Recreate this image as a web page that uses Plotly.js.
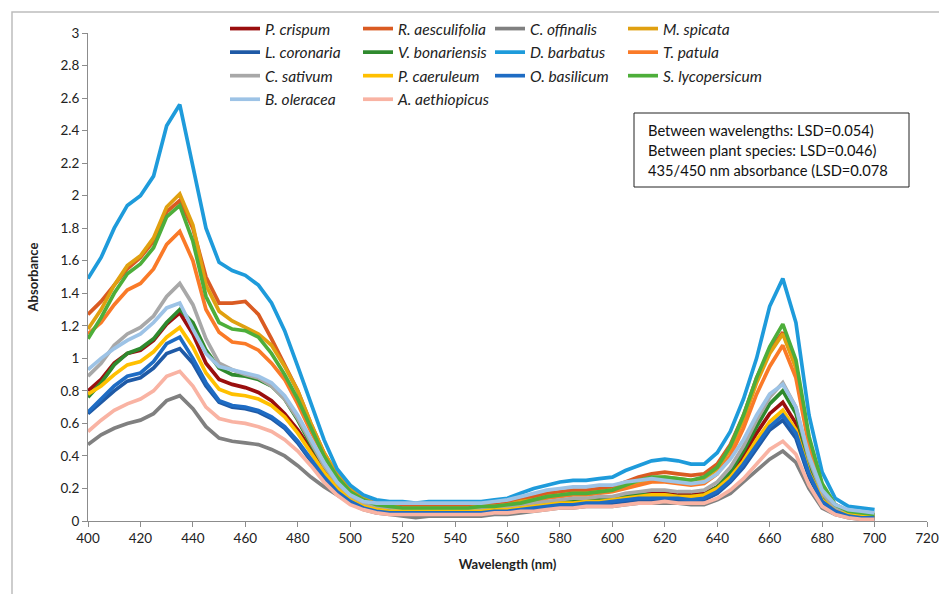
<!DOCTYPE html>
<html>
<head>
<meta charset="utf-8">
<script src="https://cdn.plot.ly/plotly-3.0.1.min.js"></script>
<style>html,body{margin:0;padding:0;background:#fff;}#chart{width:939px;height:594px;}</style>
</head>
<body>
<div id="chart"></div>
<script>
// Wavelengths 400..700 nm, 5 nm steps
const wavelengths = [400,405,410,415,420,425,430,435,440,445,450,455,460,465,470,475,480,485,490,495,500,
  505,510,515,520,525,530,535,540,545,550,555,560,565,570,575,580,585,590,595,600,
  605,610,615,620,625,630,635,640,645,650,655,660,665,670,675,680,685,690,695,700];

const speciesNames = ["P. crispum","R. aesculifolia","C. offinalis","M. spicata",
  "L. coronaria","V. bonariensis","D. barbatus","T. patula",
  "C. sativum","P. caeruleum","O. basilicum","S. lycopersicum",
  "B. oleracea","A. aethiopicus"];

const pCrispum = [0.80,0.87,0.97,1.03,1.05,1.11,1.21,1.28,1.15,0.97,0.87,0.84,0.82,0.79,0.74,0.66,0.56,0.44,0.32,0.22,0.14,
  0.10,0.08,0.07,0.06,0.06,0.06,0.06,0.06,0.06,0.07,0.07,0.08,0.09,0.10,0.11,0.12,0.12,0.13,0.13,0.14,
  0.15,0.16,0.17,0.17,0.16,0.16,0.17,0.21,0.29,0.40,0.54,0.66,0.73,0.60,0.32,0.14,0.07,0.04,0.03,0.02];
const rAesculifolia = [1.27,1.35,1.45,1.55,1.62,1.72,1.90,1.97,1.80,1.50,1.34,1.34,1.35,1.27,1.12,0.96,0.80,0.60,0.42,0.28,0.19,
  0.14,0.11,0.10,0.09,0.09,0.09,0.09,0.09,0.09,0.10,0.10,0.11,0.13,0.15,0.17,0.18,0.19,0.19,0.20,0.21,
  0.24,0.27,0.29,0.30,0.29,0.28,0.29,0.35,0.47,0.65,0.88,1.05,1.16,0.95,0.50,0.22,0.10,0.06,0.05,0.04];
const cOffinalis = [0.47,0.53,0.57,0.60,0.62,0.66,0.74,0.77,0.69,0.58,0.51,0.49,0.48,0.47,0.44,0.40,0.34,0.27,0.21,0.16,0.11,
  0.07,0.05,0.04,0.03,0.02,0.03,0.03,0.03,0.03,0.03,0.04,0.04,0.05,0.06,0.07,0.08,0.08,0.09,0.09,0.09,
  0.10,0.11,0.11,0.11,0.11,0.10,0.10,0.13,0.17,0.24,0.31,0.38,0.43,0.36,0.20,0.08,0.04,0.02,0.01,0.01];
const mSpicata = [1.18,1.30,1.45,1.57,1.63,1.74,1.93,2.01,1.82,1.45,1.29,1.23,1.19,1.15,1.08,0.95,0.80,0.60,0.42,0.29,0.20,
  0.14,0.10,0.09,0.08,0.08,0.08,0.08,0.08,0.08,0.09,0.09,0.10,0.12,0.13,0.15,0.16,0.17,0.17,0.18,0.19,
  0.22,0.24,0.26,0.27,0.26,0.25,0.26,0.32,0.44,0.62,0.85,1.03,1.15,0.94,0.49,0.21,0.09,0.05,0.04,0.03];
const lCoronaria = [0.66,0.73,0.80,0.86,0.88,0.94,1.03,1.06,0.97,0.83,0.73,0.70,0.69,0.67,0.63,0.57,0.48,0.37,0.26,0.17,0.11,
  0.08,0.06,0.05,0.05,0.05,0.05,0.05,0.05,0.05,0.05,0.05,0.06,0.07,0.07,0.08,0.09,0.09,0.10,0.10,0.11,
  0.12,0.13,0.13,0.13,0.13,0.12,0.13,0.17,0.24,0.33,0.45,0.56,0.62,0.51,0.27,0.12,0.05,0.03,0.02,0.01];
const vBonariensis = [0.76,0.85,0.96,1.03,1.06,1.12,1.22,1.30,1.22,1.05,0.94,0.90,0.89,0.87,0.83,0.75,0.62,0.47,0.34,0.23,0.15,
  0.10,0.08,0.07,0.07,0.07,0.07,0.07,0.07,0.07,0.07,0.08,0.08,0.09,0.10,0.11,0.12,0.13,0.13,0.14,0.14,
  0.15,0.16,0.16,0.16,0.15,0.15,0.16,0.21,0.30,0.43,0.58,0.72,0.80,0.66,0.36,0.16,0.07,0.04,0.03,0.02];
const dBarbatus = [1.49,1.62,1.80,1.94,2.00,2.12,2.43,2.56,2.18,1.80,1.59,1.54,1.51,1.45,1.34,1.17,0.95,0.72,0.50,0.32,0.22,
  0.16,0.13,0.12,0.12,0.11,0.12,0.12,0.12,0.12,0.12,0.13,0.14,0.17,0.20,0.22,0.24,0.25,0.25,0.26,0.27,
  0.31,0.34,0.37,0.38,0.37,0.35,0.35,0.42,0.55,0.75,1.00,1.32,1.49,1.22,0.65,0.30,0.14,0.09,0.08,0.07];
const tPatula = [1.15,1.22,1.33,1.42,1.46,1.55,1.70,1.78,1.60,1.30,1.16,1.10,1.09,1.05,0.97,0.87,0.72,0.55,0.40,0.27,0.18,
  0.13,0.10,0.09,0.08,0.08,0.08,0.08,0.08,0.08,0.09,0.09,0.10,0.11,0.12,0.14,0.15,0.16,0.16,0.17,0.18,
  0.20,0.22,0.24,0.24,0.23,0.22,0.23,0.29,0.40,0.57,0.78,0.95,1.08,0.88,0.46,0.20,0.09,0.05,0.04,0.03];
const cSativum = [0.89,0.97,1.08,1.15,1.19,1.26,1.38,1.46,1.33,1.12,0.97,0.93,0.90,0.88,0.83,0.75,0.63,0.48,0.34,0.23,0.15,
  0.11,0.09,0.08,0.07,0.07,0.07,0.07,0.07,0.07,0.07,0.08,0.09,0.10,0.11,0.12,0.13,0.14,0.14,0.15,0.15,
  0.17,0.18,0.19,0.19,0.18,0.18,0.19,0.24,0.33,0.46,0.62,0.76,0.85,0.70,0.38,0.17,0.08,0.05,0.04,0.03];
const pCaeruleum = [0.78,0.83,0.90,0.96,0.98,1.04,1.13,1.19,1.07,0.91,0.81,0.78,0.77,0.75,0.71,0.64,0.54,0.42,0.30,0.20,0.13,
  0.09,0.07,0.06,0.06,0.06,0.06,0.06,0.06,0.06,0.06,0.07,0.07,0.08,0.09,0.10,0.11,0.11,0.12,0.12,0.13,
  0.14,0.15,0.16,0.16,0.15,0.15,0.16,0.20,0.27,0.37,0.50,0.61,0.68,0.56,0.30,0.13,0.06,0.04,0.03,0.02];
const oBasilicum = [0.67,0.75,0.83,0.89,0.91,0.98,1.09,1.13,1.00,0.85,0.74,0.71,0.70,0.68,0.64,0.58,0.49,0.38,0.27,0.18,0.12,
  0.08,0.06,0.05,0.05,0.05,0.05,0.05,0.05,0.05,0.05,0.06,0.06,0.07,0.08,0.09,0.10,0.10,0.11,0.11,0.12,
  0.13,0.14,0.14,0.14,0.14,0.13,0.14,0.18,0.25,0.35,0.47,0.58,0.65,0.54,0.29,0.12,0.06,0.03,0.02,0.02];
const sLycopersicum = [1.12,1.25,1.40,1.52,1.58,1.68,1.87,1.94,1.72,1.38,1.22,1.18,1.17,1.13,1.03,0.90,0.75,0.57,0.40,0.27,0.18,
  0.13,0.10,0.09,0.08,0.08,0.08,0.08,0.08,0.08,0.09,0.09,0.10,0.11,0.13,0.15,0.16,0.17,0.17,0.18,0.19,
  0.22,0.25,0.27,0.27,0.26,0.25,0.27,0.33,0.46,0.65,0.88,1.07,1.21,0.99,0.52,0.23,0.10,0.06,0.05,0.04];
const bOleracea = [0.93,1.00,1.06,1.11,1.15,1.22,1.31,1.34,1.18,1.03,0.95,0.93,0.91,0.89,0.85,0.77,0.65,0.50,0.36,0.24,0.16,
  0.12,0.11,0.11,0.11,0.11,0.11,0.11,0.11,0.11,0.11,0.12,0.13,0.15,0.17,0.19,0.20,0.21,0.21,0.22,0.22,
  0.24,0.25,0.26,0.25,0.24,0.23,0.24,0.29,0.38,0.50,0.65,0.78,0.84,0.70,0.40,0.19,0.10,0.07,0.06,0.05];
const aAethiopicus = [0.55,0.62,0.68,0.72,0.75,0.80,0.89,0.92,0.83,0.70,0.63,0.61,0.60,0.58,0.55,0.50,0.43,0.34,0.24,0.16,0.10,
  0.07,0.05,0.04,0.04,0.04,0.04,0.04,0.04,0.04,0.04,0.05,0.05,0.06,0.06,0.07,0.08,0.08,0.09,0.09,0.09,
  0.10,0.11,0.11,0.12,0.11,0.11,0.11,0.14,0.19,0.26,0.35,0.44,0.49,0.41,0.22,0.09,0.04,0.02,0.01,0.01];

const seriesValues = [pCrispum,rAesculifolia,cOffinalis,mSpicata,lCoronaria,vBonariensis,dBarbatus,tPatula,
  cSativum,pCaeruleum,oBasilicum,sLycopersicum,bOleracea,aAethiopicus];

const seriesColors = ["#9A0E0E","#DA5B22","#808080","#E0A010",
  "#1F5AA6","#2F8A2E","#1E9BDB","#FA7A28",
  "#A8A8A8","#FFC000","#1E6CC4","#4DAE3A",
  "#9DC3E6","#F9B3A3"];

const xTickVals = [400,420,440,460,480,500,520,540,560,580,600,620,640,660,680,700,720];
const annotationLines = ["Between wavelengths: LSD=0.054)","Between plant species: LSD=0.046)","435/450 nm absorbance (LSD=0.078"];

const legendIds = ["legend","legend2","legend3","legend4"];
const traces = speciesNames.map((name,i) => ({
  type: "scatter", mode: "lines", name: name, x: wavelengths, y: seriesValues[i],
  line: {color: seriesColors[i], width: 3.7},
  legend: legendIds[i % 4], legendgroup: "g" + i, hoverinfo: "x+y+name"
}));

const fontFam = "Lato, 'Open Sans', sans-serif";
const plotL = 88, plotR = 927, plotT = 33, plotB = 521;
const pw = plotR - plotL, ph = plotB - plotT;
function px2fx(px){ return (px - plotL) / pw; }
function px2fy(py){ return (plotB - py) / ph; }

function mkLegend(leftPx){
  return {x: px2fx(leftPx), xanchor: "left", y: px2fy(12), yanchor: "top",
    orientation: "v", bgcolor: "rgba(0,0,0,0)", borderwidth: 0,
    traceorder: "grouped", tracegroupgap: 0.4,
    font: {family: fontFam, size: 15.5, color: "#222", style: "italic"}};
}

const layout = {
  width: 939, height: 594,
  margin: {l: plotL, r: 939 - plotR, t: plotT, b: 594 - plotB},
  paper_bgcolor: "#fff", plot_bgcolor: "#fff",
  font: {family: fontFam, color: "#222"},
  showlegend: true,
  legend: mkLegend(225), legend2: mkLegend(358), legend3: mkLegend(490), legend4: mkLegend(623),
  xaxis: {range: [400, 720], tickvals: xTickVals, ticks: "outside", ticklen: 5, tickcolor: "#8c8c8c",
    showline: true, linecolor: "#8c8c8c", linewidth: 1, showgrid: false, zeroline: false,
    tickfont: {family: fontFam, size: 13.5, color: "#222"},
    title: {text: "<b>Wavelength (nm)</b>", font: {family: fontFam, size: 13, color: "#222"}, standoff: 14}},
  yaxis: {range: [0, 3], dtick: 0.2, tick0: 0, ticks: "outside", ticklen: 5, tickcolor: "#8c8c8c",
    showline: true, linecolor: "#8c8c8c", linewidth: 1, showgrid: false, zeroline: false,
    tickfont: {family: fontFam, size: 13.5, color: "#222"},
    title: {text: "<b>Absorbance</b>", font: {family: fontFam, size: 13, color: "#222"}, standoff: 18}},
  shapes: [
    {type: "rect", xref: "paper", yref: "paper", x0: px2fx(12), x1: px2fx(1200), y0: px2fy(12), y1: px2fy(900),
      line: {color: "#BDBDBD", width: 1.5}, fillcolor: "rgba(0,0,0,0)"},
    {type: "rect", xref: "paper", yref: "paper", x0: px2fx(634), x1: px2fx(909), y0: px2fy(113), y1: px2fy(187),
      line: {color: "#222", width: 1}, fillcolor: "#fff"}
  ],
  annotations: annotationLines.map((t, i) => ({
    xref: "paper", yref: "paper", x: px2fx(646), xanchor: "left", y: px2fy(130 + 20 * i), yanchor: "middle",
    text: t, showarrow: false, font: {family: fontFam, size: 14.7, color: "#111"}
  }))
};

Plotly.newPlot("chart", traces, layout, {displayModeBar: false, staticPlot: true});
</script>
</body>
</html>
